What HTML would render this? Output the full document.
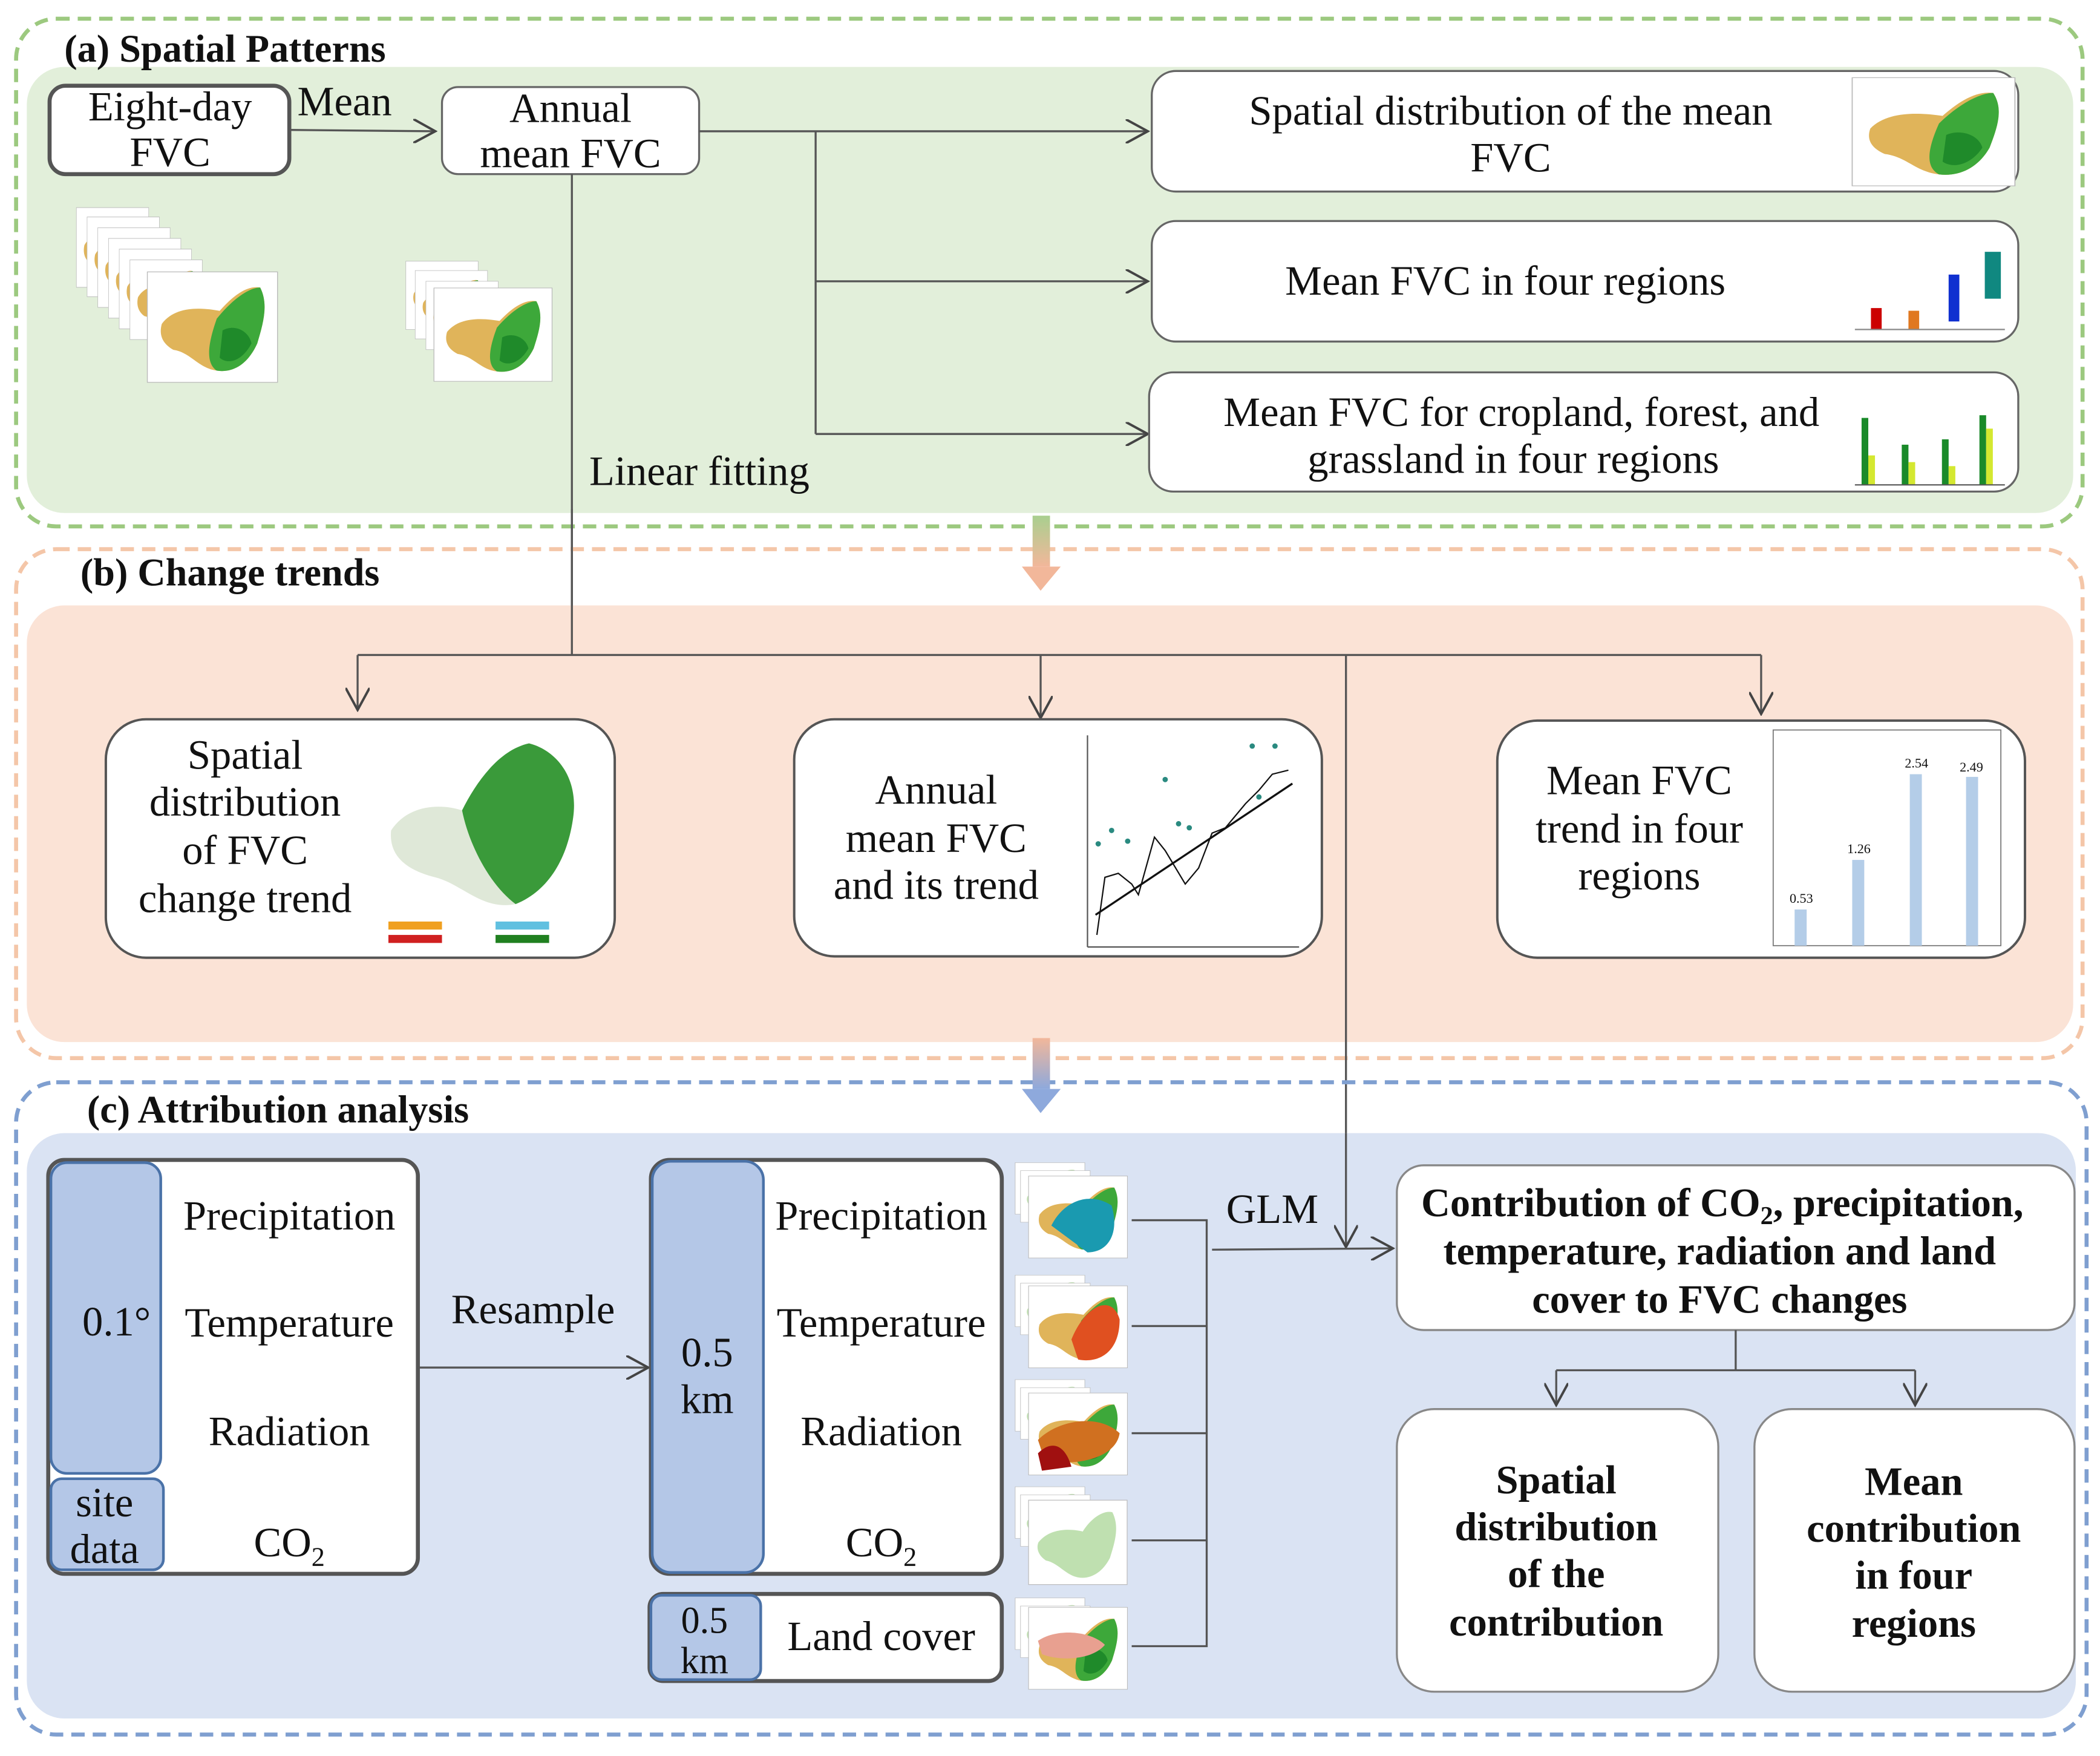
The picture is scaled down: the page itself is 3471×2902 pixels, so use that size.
<!DOCTYPE html>
<html><head><meta charset="utf-8"><style>
html,body{margin:0;padding:0;background:#fff}
svg{display:block}
text{font-family:"Liberation Serif",serif;fill:#111}
.b{font-weight:bold}
</style></head><body>
<svg width="3471" height="2902" viewBox="0 0 1568 1311" xmlns="http://www.w3.org/2000/svg">
<defs>
<marker id="ar" viewBox="0 0 12 12" refX="11" refY="6" markerWidth="18" markerHeight="18" markerUnits="userSpaceOnUse" orient="auto">
<path d="M0,0 L11,6 L0,12" fill="none" stroke="#444" stroke-width="1.2"/></marker>
<linearGradient id="g1" x1="0" y1="0" x2="0" y2="1"><stop offset="0" stop-color="#a9cf8f"/><stop offset="1" stop-color="#f2b79a"/></linearGradient>
<linearGradient id="g2" x1="0" y1="0" x2="0" y2="1"><stop offset="0" stop-color="#f2b79a"/><stop offset="1" stop-color="#8ea9dc"/></linearGradient>
<g id="mapG">
<rect x="0" y="0" width="90" height="85" fill="#fff" stroke="#bbb" stroke-width="0.6"/>
<path d="M10,40 C20,25 40,28 50,30 C58,20 68,10 78,12 C84,25 80,40 76,55 C70,70 60,78 48,76 C35,74 30,62 18,60 C10,55 8,48 10,40Z" fill="#e0b45a"/>
<path d="M48,36 C58,22 70,12 78,12 C84,25 80,40 76,55 C70,70 60,78 48,76 C40,70 42,55 48,36Z" fill="#3da83a"/>
<path d="M52,45 C60,40 70,45 72,55 C66,68 56,72 50,66Z" fill="#1f8a2a"/>
</g>
<g id="mapB">
<rect x="0" y="0" width="80" height="70" fill="#fff" stroke="#bbb" stroke-width="0.6"/>
<path d="M8,35 C18,22 36,24 44,26 C50,16 60,8 68,10 C74,22 70,35 66,48 C60,60 50,66 40,64 C30,62 24,52 14,50 C8,46 6,40 8,35Z" fill="#bfe0b0"/>
</g>
</defs>

<!-- Section a -->
<rect x="12" y="14" width="1543" height="379" rx="30" fill="none" stroke="#9cc97f" stroke-width="3" stroke-dasharray="10,6"/>
<rect x="20" y="50" width="1528" height="333" rx="28" fill="#e2efda"/>
<text x="48" y="46" font-size="29" class="b">(a) Spatial Patterns</text>

<rect x="37" y="64" width="179" height="66" rx="12" fill="#fff" stroke="#555" stroke-width="3"/>
<text x="127" y="90" font-size="31" text-anchor="middle">Eight-day</text>
<text x="127" y="124" font-size="31" text-anchor="middle">FVC</text>
<text x="222" y="86" font-size="31">Mean</text>
<line x1="216" y1="97" x2="325" y2="98" stroke="#555" stroke-width="1.5" marker-end="url(#ar)"/>

<rect x="330" y="65" width="192" height="65" rx="12" fill="#fff" stroke="#666" stroke-width="1.5"/>
<text x="426" y="91" font-size="31" text-anchor="middle">Annual</text>
<text x="426" y="125" font-size="31" text-anchor="middle">mean FVC</text>

<g stroke="#555" stroke-width="1.5" fill="none">
<line x1="522" y1="98" x2="857" y2="98" marker-end="url(#ar)"/>
<line x1="609" y1="98" x2="609" y2="324"/>
<line x1="609" y1="210" x2="857" y2="210" marker-end="url(#ar)"/>
<line x1="609" y1="324" x2="857" y2="324" marker-end="url(#ar)"/>
<line x1="427" y1="130" x2="427" y2="489"/>
</g>
<text x="440" y="362" font-size="31">Linear fitting</text>

<!-- stacks -->
<g transform="translate(57,155) scale(0.6,0.7)"><use href="#mapG"/></g>
<g transform="translate(65,162) scale(0.6,0.7)"><use href="#mapG"/></g>
<g transform="translate(73,170) scale(0.6,0.7)"><use href="#mapG"/></g>
<g transform="translate(81,178) scale(0.6,0.7)"><use href="#mapG"/></g>
<g transform="translate(89,186) scale(0.6,0.7)"><use href="#mapG"/></g>
<g transform="translate(97,194) scale(0.6,0.7)"><use href="#mapG"/></g>
<g transform="translate(110,203) scale(1.08,0.97)"><use href="#mapG"/></g>
<g transform="translate(303,195) scale(0.6,0.6)"><use href="#mapG"/></g>
<g transform="translate(310,202) scale(0.6,0.6)"><use href="#mapG"/></g>
<g transform="translate(318,210) scale(0.6,0.6)"><use href="#mapG"/></g>
<g transform="translate(324,215) scale(0.98,0.82)"><use href="#mapG"/></g>

<!-- right boxes a -->
<rect x="860" y="53" width="647" height="90" rx="18" fill="#fff" stroke="#666" stroke-width="1.5"/>
<text x="1128" y="93" font-size="31" text-anchor="middle">Spatial distribution of the mean</text>
<text x="1128" y="128" font-size="31" text-anchor="middle">FVC</text>
<g transform="translate(1383,58) scale(1.35,0.95)"><use href="#mapG"/></g>
<rect x="860" y="165" width="647" height="90" rx="18" fill="#fff" stroke="#666" stroke-width="1.5"/>
<text x="1124" y="220" font-size="31" text-anchor="middle">Mean FVC in four  regions</text>
<g>
<rect x="1382" y="170" width="115" height="80" fill="#fff"/>
<rect x="1397" y="230" width="8" height="16" fill="#c00"/>
<rect x="1425" y="232" width="8" height="14" fill="#e07820"/>
<rect x="1455" y="205" width="8" height="35" fill="#1030d0"/>
<rect x="1482" y="188" width="12" height="35" fill="#108880"/>
<line x1="1385" y1="246" x2="1497" y2="246" stroke="#888"/>
</g>
<rect x="858" y="278" width="649" height="89" rx="18" fill="#fff" stroke="#666" stroke-width="1.5"/>
<text x="1136" y="318" font-size="31" text-anchor="middle">Mean FVC for cropland, forest, and</text>
<text x="1130" y="353" font-size="31" text-anchor="middle">grassland in four regions</text>
<g>
<rect x="1390" y="312" width="5" height="50" fill="#1a8a2a"/><rect x="1395" y="340" width="5" height="22" fill="#d4e830"/>
<rect x="1420" y="332" width="5" height="30" fill="#1a8a2a"/><rect x="1425" y="345" width="5" height="17" fill="#d4e830"/>
<rect x="1450" y="328" width="5" height="34" fill="#1a8a2a"/><rect x="1455" y="348" width="5" height="14" fill="#d4e830"/>
<rect x="1478" y="310" width="5" height="52" fill="#1a8a2a"/><rect x="1483" y="320" width="5" height="42" fill="#d4e830"/>
<line x1="1385" y1="362" x2="1497" y2="362" stroke="#555"/>
</g>

<!-- Section b -->
<rect x="12" y="410" width="1543" height="380" rx="30" fill="none" stroke="#f4c6a8" stroke-width="3" stroke-dasharray="10,6"/>
<rect x="20" y="452" width="1528" height="326" rx="28" fill="#fbe3d6"/>
<text x="60" y="437" font-size="29" class="b">(b) Change trends</text>
<rect x="771" y="385" width="13" height="38" fill="url(#g1)"/>
<path d="M763,423 L792,423 L777,441Z" fill="#f2b79a"/>
<g stroke="#555" stroke-width="1.5" fill="none">
<line x1="427" y1="380" x2="427" y2="489"/>
<line x1="267" y1="489" x2="1315" y2="489"/>
<line x1="267" y1="489" x2="267" y2="530" marker-end="url(#ar)"/>
<line x1="777" y1="489" x2="777" y2="536" marker-end="url(#ar)"/>
<line x1="1315" y1="489" x2="1315" y2="533" marker-end="url(#ar)"/>
<line x1="1005" y1="489" x2="1005" y2="931" marker-end="url(#ar)"/>
</g>

<rect x="79" y="537" width="380" height="178" rx="30" fill="#fff" stroke="#555" stroke-width="1.8"/>
<text x="183" y="574" font-size="31" text-anchor="middle">Spatial</text>
<text x="183" y="609" font-size="31" text-anchor="middle">distribution</text>
<text x="183" y="645" font-size="31" text-anchor="middle">of  FVC</text>
<text x="183" y="681" font-size="31" text-anchor="middle">change trend</text>
<g>
<rect x="285" y="543" width="155" height="165" fill="#fff"/>
<path d="M292,620 C305,600 330,600 345,605 C355,585 372,560 395,555 C415,560 432,580 428,610 C424,640 410,665 385,675 C360,680 345,660 325,655 C305,650 290,640 292,620Z" fill="#dfe8d8"/>
<path d="M345,605 C355,585 372,560 395,555 C415,560 432,580 428,610 C424,640 410,665 385,675 C365,660 350,630 345,605Z" fill="#3a9a3a"/>
<rect x="290" y="688" width="40" height="6" fill="#f0a020"/><rect x="370" y="688" width="40" height="6" fill="#60c0e0"/>
<rect x="290" y="698" width="40" height="6" fill="#d02020"/><rect x="370" y="698" width="40" height="6" fill="#208020"/>
</g>

<rect x="593" y="537" width="394" height="177" rx="30" fill="#fff" stroke="#555" stroke-width="1.8"/>
<text x="699" y="600" font-size="31" text-anchor="middle">Annual</text>
<text x="699" y="636" font-size="31" text-anchor="middle">mean FVC</text>
<text x="699" y="671" font-size="31" text-anchor="middle">and its trend</text>
<g>
<rect x="810" y="549" width="160" height="158" fill="#fff"/>
<line x1="812" y1="549" x2="812" y2="707" stroke="#555"/><line x1="812" y1="707" x2="970" y2="707" stroke="#555"/>
<polyline points="819,698 825,655 835,652 845,660 850,668 862,625 870,635 885,660 895,648 905,622 915,618 930,600 940,590 950,578 962,575" fill="none" stroke="#111" stroke-width="1"/>
<line x1="818" y1="683" x2="965" y2="585" stroke="#111" stroke-width="1.5"/>
<g fill="#2a8a80"><circle cx="820" cy="630" r="2"/><circle cx="830" cy="620" r="2"/><circle cx="842" cy="628" r="2"/><circle cx="870" cy="582" r="2"/><circle cx="880" cy="615" r="2"/><circle cx="888" cy="618" r="2"/><circle cx="935" cy="557" r="2"/><circle cx="952" cy="557" r="2"/><circle cx="940" cy="595" r="2"/></g>
</g>

<rect x="1118" y="538" width="394" height="177" rx="30" fill="#fff" stroke="#555" stroke-width="1.8"/>
<text x="1224" y="593" font-size="31" text-anchor="middle">Mean FVC</text>
<text x="1224" y="629" font-size="31" text-anchor="middle">trend in four</text>
<text x="1224" y="664" font-size="31" text-anchor="middle">regions</text>
<g>
<rect x="1324" y="545" width="170" height="161" fill="#fff" stroke="#777" stroke-width="0.8"/>
<rect x="1340" y="679" width="9" height="27" fill="#b4cde8"/>
<rect x="1383" y="642" width="9" height="64" fill="#b4cde8"/>
<rect x="1426" y="578" width="9" height="128" fill="#b4cde8"/>
<rect x="1468" y="580" width="9" height="126" fill="#b4cde8"/>
<g font-size="10" text-anchor="middle"><text x="1345" y="674">0.53</text><text x="1388" y="637">1.26</text><text x="1431" y="573">2.54</text><text x="1472" y="576">2.49</text></g>
</g>

<!-- Section c -->
<rect x="12" y="808" width="1546" height="487" rx="30" fill="none" stroke="#7f9fd0" stroke-width="3" stroke-dasharray="10,6"/>
<rect x="20" y="846" width="1530" height="437" rx="28" fill="#dae3f3"/>
<text x="65" y="838" font-size="29" class="b">(c) Attribution analysis</text>
<rect x="771" y="775" width="13" height="38" fill="url(#g2)"/>
<path d="M763,813 L792,813 L777,831Z" fill="#8ea9dc"/>
<line x1="1005" y1="846" x2="1005" y2="931" stroke="#555" stroke-width="1.5" marker-end="url(#ar)"/>

<rect x="36" y="866" width="276" height="309" rx="12" fill="#fff" stroke="#555" stroke-width="3"/>
<rect x="38" y="868" width="82" height="232" rx="12" fill="#b4c7e7" stroke="#4a72a8" stroke-width="2"/>
<rect x="38" y="1104" width="84" height="68" rx="8" fill="#b4c7e7" stroke="#4a72a8" stroke-width="2"/>
<text x="87" y="997" font-size="31" text-anchor="middle">0.1°</text>
<text x="78" y="1132" font-size="31" text-anchor="middle">site</text>
<text x="78" y="1167" font-size="31" text-anchor="middle">data</text>
<g font-size="31" text-anchor="middle">
<text x="216" y="918">Precipitation</text>
<text x="216" y="998">Temperature</text>
<text x="216" y="1079">Radiation</text>
<text x="216" y="1162">CO<tspan font-size="20" dy="7">2</tspan></text>
</g>
<text x="398" y="988" font-size="31" text-anchor="middle">Resample</text>
<line x1="312" y1="1021" x2="484" y2="1021" stroke="#555" stroke-width="1.5" marker-end="url(#ar)"/>

<rect x="486" y="866" width="262" height="309" rx="14" fill="#fff" stroke="#555" stroke-width="3"/>
<rect x="487" y="867" width="83" height="307" rx="14" fill="#b4c7e7" stroke="#4a72a8" stroke-width="2"/>
<text x="528" y="1020" font-size="31" text-anchor="middle">0.5</text>
<text x="528" y="1055" font-size="31" text-anchor="middle">km</text>
<g font-size="31" text-anchor="middle">
<text x="658" y="918">Precipitation</text>
<text x="658" y="998">Temperature</text>
<text x="658" y="1079">Radiation</text>
<text x="658" y="1162">CO<tspan font-size="20" dy="7">2</tspan></text>
</g>
<rect x="485" y="1190" width="263" height="65" rx="10" fill="#fff" stroke="#555" stroke-width="3"/>
<rect x="486" y="1191" width="82" height="63" rx="8" fill="#b4c7e7" stroke="#4a72a8" stroke-width="2"/>
<text x="526" y="1219" font-size="28" text-anchor="middle">0.5</text>
<text x="526" y="1249" font-size="28" text-anchor="middle">km</text>
<text x="658" y="1232" font-size="31" text-anchor="middle">Land cover</text>

<!-- thumbnails c -->
<g transform="translate(758,868) scale(0.65,0.55)"><use href="#mapB"/></g>
<g transform="translate(762,874) scale(0.65,0.55)"><use href="#mapB"/></g>
<g transform="translate(768,878) scale(0.82,0.72)"><use href="#mapG"/></g>
<path d="M785,915 C795,895 815,890 830,900 C836,920 828,935 812,935Z" fill="#1a9ab0"/>
<g transform="translate(758,952) scale(0.65,0.55)"><use href="#mapB"/></g>
<g transform="translate(762,958) scale(0.65,0.55)"><use href="#mapB"/></g>
<g transform="translate(768,960) scale(0.82,0.72)"><use href="#mapG"/></g>
<path d="M800,1000 C810,975 830,965 836,985 C836,1010 820,1018 805,1015Z" fill="#e05020"/>
<g transform="translate(758,1030) scale(0.65,0.55)"><use href="#mapB"/></g>
<g transform="translate(762,1036) scale(0.65,0.55)"><use href="#mapB"/></g>
<g transform="translate(768,1040) scale(0.82,0.72)"><use href="#mapG"/></g>
<path d="M775,1075 C790,1060 820,1055 836,1070 C833,1090 800,1095 780,1090Z" fill="#d07020"/>
<path d="M775,1085 C785,1075 795,1078 800,1095 L778,1098Z" fill="#a01010"/>
<g transform="translate(758,1110) scale(0.65,0.55)"><use href="#mapB"/></g>
<g transform="translate(762,1116) scale(0.65,0.55)"><use href="#mapB"/></g>
<g transform="translate(768,1120) scale(0.92,0.9)"><use href="#mapB"/></g>
<g transform="translate(758,1193) scale(0.65,0.55)"><use href="#mapB"/></g>
<g transform="translate(762,1199) scale(0.65,0.55)"><use href="#mapB"/></g>
<g transform="translate(768,1200) scale(0.82,0.72)"><use href="#mapG"/></g>
<path d="M775,1225 C790,1215 815,1218 825,1228 C815,1240 790,1240 778,1235Z" fill="#e8a090"/>

<g stroke="#555" stroke-width="1.5" fill="none">
<polyline points="845,911 901,911 901,1229 845,1229"/>
<line x1="845" y1="990" x2="901" y2="990"/>
<line x1="845" y1="1070" x2="901" y2="1070"/>
<line x1="845" y1="1150" x2="901" y2="1150"/>
<line x1="905" y1="933" x2="1040" y2="932" marker-end="url(#ar)"/>
</g>
<text x="950" y="913" font-size="31" text-anchor="middle">GLM</text>

<rect x="1043" y="870" width="506" height="123" rx="20" fill="#fff" stroke="#888" stroke-width="1.5"/>
<g font-size="30" class="b" text-anchor="middle">
<text x="1286" y="908">Contribution of CO<tspan font-size="19" dy="6">2</tspan><tspan dy="-6">, precipitation,</tspan></text>
<text x="1284" y="944">temperature, radiation and land</text>
<text x="1284" y="980">cover to FVC changes</text>
</g>
<g stroke="#555" stroke-width="1.5" fill="none">
<line x1="1296" y1="993" x2="1296" y2="1023"/>
<line x1="1162" y1="1023" x2="1430" y2="1023"/>
<line x1="1162" y1="1023" x2="1162" y2="1049" marker-end="url(#ar)"/>
<line x1="1430" y1="1023" x2="1430" y2="1049" marker-end="url(#ar)"/>
</g>
<rect x="1043" y="1052" width="240" height="211" rx="28" fill="#fff" stroke="#888" stroke-width="1.5"/>
<rect x="1310" y="1052" width="239" height="211" rx="28" fill="#fff" stroke="#888" stroke-width="1.5"/>
<g font-size="30" class="b" text-anchor="middle">
<text x="1162" y="1115">Spatial</text>
<text x="1162" y="1150">distribution</text>
<text x="1162" y="1185">of the</text>
<text x="1162" y="1221">contribution</text>
<text x="1429" y="1116">Mean</text>
<text x="1429" y="1151">contribution</text>
<text x="1429" y="1186">in four</text>
<text x="1429" y="1222">regions</text>
</g>
</svg>
</body></html>
